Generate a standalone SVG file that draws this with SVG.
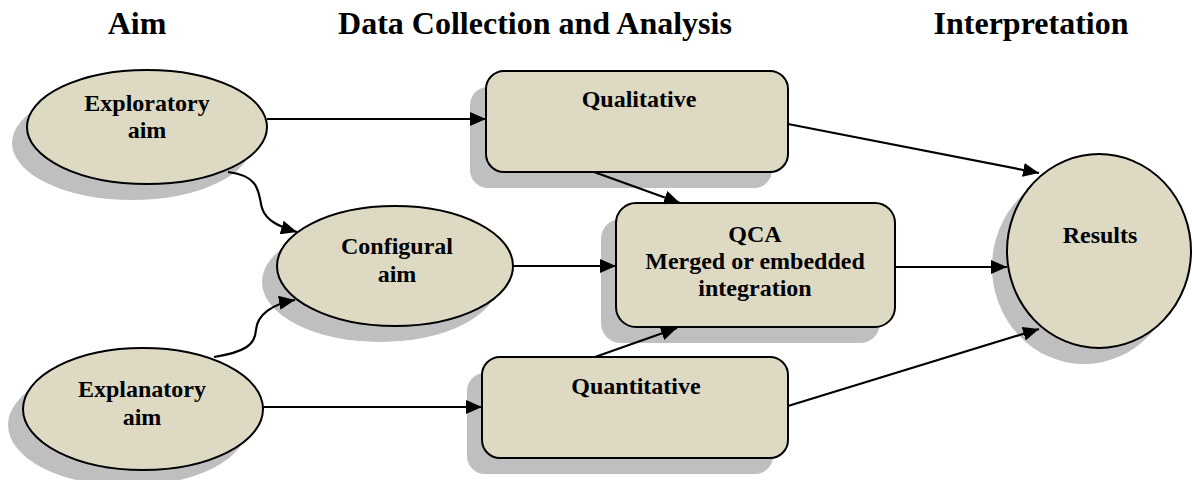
<svg xmlns="http://www.w3.org/2000/svg" width="1192" height="480" viewBox="0 0 1192 480">
<defs>
<style>
.t{font-family:"Liberation Serif","Times New Roman",serif;font-weight:bold;fill:#000;text-anchor:middle}
.title{font-size:32px}
.lbl{font-size:24px}
.sh{fill:#BFBFBF;stroke:none}
.nd{fill:#DDD9C3;stroke:#000;stroke-width:2}
.cn{fill:none;stroke:#000;stroke-width:2.2;marker-end:url(#ah)}
</style>
<marker id="ah" markerUnits="userSpaceOnUse" markerWidth="18" markerHeight="14" refX="16" refY="7" orient="auto">
<path d="M0,0 L16,7 L0,14 z" fill="#000"/>
</marker>
</defs>
<rect width="1192" height="480" fill="#fff"/>
<g id="titles">
<text class="t title" x="137" y="34">Aim</text>
<text class="t title" x="535" y="34">Data Collection and Analysis</text>
<text class="t title" x="1031" y="34">Interpretation</text>
</g>
<g id="exploratory">
<ellipse class="sh" cx="132" cy="143" rx="120" ry="57"/>
<ellipse class="nd" cx="147" cy="127" rx="120" ry="57"/>
<text class="t lbl" x="147" y="111">Exploratory</text>
<text class="t lbl" x="147" y="138">aim</text>
</g>
<g id="configural">
<ellipse class="sh" cx="380" cy="282" rx="118" ry="60"/>
<ellipse class="nd" cx="395" cy="266" rx="118" ry="60"/>
<text class="t lbl" x="397" y="254">Configural</text>
<text class="t lbl" x="397" y="282">aim</text>
</g>
<g id="explanatory">
<ellipse class="sh" cx="128" cy="425" rx="120" ry="61"/>
<ellipse class="nd" cx="143" cy="409" rx="120" ry="61"/>
<text class="t lbl" x="142" y="397">Explanatory</text>
<text class="t lbl" x="142" y="425">aim</text>
</g>
<g id="qualitative">
<rect class="sh" x="470" y="87" width="302" height="101" rx="18"/>
<rect class="nd" x="486" y="71" width="302" height="101" rx="18"/>
<text class="t lbl" x="639" y="107">Qualitative</text>
</g>
<g id="qca">
<rect class="sh" x="601" y="219" width="279" height="124" rx="20"/>
<rect class="nd" x="616" y="203" width="279" height="124" rx="20"/>
<text class="t lbl" x="755" y="242">QCA</text>
<text class="t lbl" x="755" y="269">Merged or embedded</text>
<text class="t lbl" x="755" y="296">integration</text>
</g>
<g id="quantitative">
<rect class="sh" x="467" y="373" width="306" height="101" rx="18"/>
<rect class="nd" x="482" y="357" width="306" height="101" rx="18"/>
<text class="t lbl" x="636" y="394">Quantitative</text>
</g>
<g id="results">
<ellipse class="sh" cx="1084" cy="267" rx="92" ry="97"/>
<ellipse class="nd" cx="1099" cy="251" rx="92" ry="97"/>
<text class="t lbl" x="1100" y="243">Results</text>
</g>
<g id="connectors">
<path class="cn" d="M267,119 L486,119"/>
<path class="cn" d="M228,172 C262,176 258,195 262,208 C266,221 280,227 297,232"/>
<path class="cn" d="M214,357 C245,352 255,345 256,330 C257,315 272,304 295,300"/>
<path class="cn" d="M513,266 L616,266"/>
<path class="cn" d="M263,407 L482,407"/>
<path class="cn" d="M594,172 L680,203"/>
<path class="cn" d="M595,357 L677,328"/>
<path class="cn" d="M788,124 L1039,173"/>
<path class="cn" d="M895,267 L1007,267"/>
<path class="cn" d="M788,406 L1039,329"/>
</g>
</svg>
